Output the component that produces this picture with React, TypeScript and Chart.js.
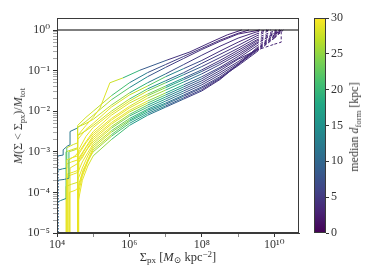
import React, { useEffect, useRef } from 'react';
import { Chart, registerables } from 'chart.js';

Chart.register(...registerables);

const SERIF = '"Liberation Serif", "DejaVu Serif", serif';

// ---- axis / tick data ----
const xTickExponents = [4, 5, 6, 7, 8, 9, 10];
const xLabelExponents = [4, 6, 8, 10];
const yTickExponents = [-5, -4, -3, -2, -1, 0];
const yMinorMultipliers = [2, 3, 4, 5, 6, 7, 8, 9];
const xRange = [1e4, 4.8e10];
const yRange = [1e-5, 1.975];
const unityLineX = [1e4, 4.8e10];
const unityLineY = [1, 1];
const colorbarTicks = [0, 5, 10, 15, 20, 25, 30];
const colorbarRange = [0, 30];

// ---- curves: log10(Sigma_px), log10(M(<Sigma)/M_tot), median d_form [kpc] ----
const curveLogSigma: number[][] = [
  [4.27, 4.27, 4.4, 4.57, 4.57, 4.8, 5.0, 5.19, 5.46, 5.82, 6.29, 7.04, 7.67, 8.2, 8.7, 9.1],
  [4.03, 4.03, 4.15, 4.27, 4.27, 4.45, 4.57, 4.57, 4.8, 5.0, 5.5, 6.0, 6.5, 7.0, 7.5, 8.0, 8.5, 9.0, 9.6],
  [4.03, 4.03, 4.17, 4.17, 4.3, 4.36, 4.36, 4.55, 4.6, 4.8, 5.0, 5.5, 6.0, 6.5, 7.0, 7.5, 8.0, 8.5, 9.0, 9.5, 9.8],
  [4.03, 4.03, 4.2, 4.33, 4.33, 4.5, 4.57, 4.57, 4.8, 5.0, 5.5, 6.0, 6.5, 7.0, 7.5, 8.0, 8.5, 9.0, 9.5, 9.9],
  [4.0, 4.0, 4.1, 4.25, 4.25, 4.4, 4.57, 4.57, 4.8, 5.0, 5.5, 6.0, 6.5, 7.0, 7.5, 8.0, 8.5, 9.0, 9.3],
  [4.27, 4.27, 4.4, 4.57, 4.57, 4.8, 5.0, 5.5, 6.0, 6.5, 7.0, 7.5, 8.0, 8.5, 9.0, 9.5, 9.85],
  [4.28, 4.28, 4.45, 4.6, 4.6, 4.8, 5.0, 5.5, 6.0, 6.5, 7.0, 7.5, 8.0, 8.5, 9.0, 9.5, 10.0, 10.05],
  [4.25, 4.25, 4.4, 4.57, 4.57, 4.8, 5.0, 5.5, 6.0, 6.5, 7.0, 7.5, 8.0, 8.5, 9.0, 9.5, 10.0, 10.15],
  [4.3, 4.3, 4.45, 4.6, 4.6, 4.8, 5.0, 5.5, 6.0, 6.5, 7.0, 7.5, 8.0, 8.5, 9.0, 9.5, 10.0, 10.15],
  [4.33, 4.33, 4.5, 4.65, 4.8, 5.0, 5.5, 6.0, 6.5, 7.0, 7.5, 8.0, 8.5, 9.0, 9.5, 10.0, 10.1],
  [4.34, 4.34, 4.5, 4.57, 4.57, 4.8, 5.0, 5.5, 6.0, 6.5, 7.0, 7.5, 8.0, 8.5, 9.0, 9.5, 10.0, 10.2],
  [4.36, 4.36, 4.55, 4.7, 4.85, 5.0, 5.5, 6.0, 6.5, 7.0, 7.5, 8.0, 8.5, 9.0, 9.5, 10.0, 10.2],
  [4.57, 4.57, 4.7, 4.85, 5.0, 5.5, 6.0, 6.5, 7.0, 7.5, 8.0, 8.5, 9.0, 9.5, 10.0, 10.19, 10.19],
  [4.58, 4.58, 4.7, 4.85, 5.0, 5.5, 6.0, 6.5, 7.0, 7.5, 8.0, 8.5, 9.0, 9.5, 10.0, 10.2],
  [4.57, 4.57, 4.7, 4.85, 5.0, 5.5, 6.0, 6.5, 7.0, 7.5, 8.0, 8.5, 9.0, 9.5, 10.0, 10.2],
  [4.59, 4.59, 4.7, 4.85, 5.0, 5.5, 6.0, 6.5, 7.0, 7.5, 8.0, 8.5, 9.0, 9.5, 10.0, 10.25],
  [4.57, 4.57, 4.7, 4.85, 5.0, 5.5, 6.0, 6.5, 7.0, 7.5, 8.0, 8.5, 9.0, 9.5, 10.0, 10.2],
  [4.6, 4.6, 4.72, 4.85, 5.0, 5.5, 6.0, 6.5, 7.0, 7.5, 8.0, 8.5, 9.0, 9.5, 10.0, 10.15],
  [4.57, 4.57, 4.7, 4.85, 5.0, 5.5, 6.0, 6.5, 7.0, 7.5, 8.0, 8.5, 9.0, 9.5, 10.0, 10.15],
];

const curveLogFrac: number[][] = [
  [-5.5, -3.2, -3.15, -3.1, -2.6, -2.35, -2.15, -1.92, -1.3, -1.18, -0.99, -0.74, -0.54, -0.32, -0.12, 0],
  [-5.5, -3.45, -3.42, -3.4, -2.9, -2.82, -2.78, -2.4, -2.25, -2.1, -1.72, -1.42, -1.15, -0.92, -0.7, -0.48, -0.28, -0.1, 0],
  [-5.5, -3.1, -3.08, -2.95, -2.85, -2.83, -2.5, -2.42, -2.38, -2.3, -2.2, -1.85, -1.55, -1.3, -1.08, -0.85, -0.62, -0.4, -0.2, -0.05, 0],
  [-5.5, -3.7, -3.68, -3.65, -3.0, -2.95, -2.92, -2.6, -2.48, -2.35, -2.0, -1.7, -1.45, -1.25, -1.05, -0.82, -0.6, -0.38, -0.15, 0],
  [-5.5, -4.25, -4.2, -4.15, -3.0, -2.95, -2.9, -2.35, -2.15, -2.0, -1.62, -1.3, -1.05, -0.85, -0.65, -0.45, -0.25, -0.08, 0],
  [-5.5, -3.3, -3.25, -3.2, -2.7, -2.45, -2.3, -1.9, -1.6, -1.38, -1.15, -0.95, -0.75, -0.52, -0.3, -0.1, 0],
  [-5.5, -3.55, -3.5, -3.45, -2.95, -2.62, -2.4, -2.05, -1.75, -1.5, -1.3, -1.1, -0.9, -0.68, -0.45, -0.2, -0.02, 0],
  [-5.5, -3.85, -3.8, -3.75, -3.1, -2.78, -2.55, -2.18, -1.88, -1.62, -1.42, -1.22, -1.02, -0.8, -0.55, -0.28, -0.08, 0],
  [-5.5, -3.6, -3.55, -3.5, -3.2, -2.9, -2.65, -2.28, -1.98, -1.75, -1.55, -1.35, -1.15, -0.92, -0.65, -0.35, -0.08, 0],
  [-5.5, -3.2, -3.1, -2.95, -2.75, -2.5, -2.1, -1.8, -1.58, -1.38, -1.18, -0.98, -0.75, -0.5, -0.25, -0.05, 0],
  [-5.5, -4.0, -3.95, -3.9, -3.2, -2.88, -2.6, -2.22, -1.92, -1.68, -1.48, -1.28, -1.08, -0.85, -0.6, -0.32, -0.1, 0],
  [-5.5, -3.4, -3.3, -3.15, -2.9, -2.7, -2.32, -2.02, -1.8, -1.6, -1.4, -1.2, -0.95, -0.7, -0.4, -0.12, 0],
  [-5.5, -3.3, -3.1, -2.92, -2.75, -2.38, -2.08, -1.85, -1.65, -1.45, -1.25, -1.0, -0.72, -0.5, -0.35, -0.3, 0],
  [-5.5, -3.5, -3.25, -3.02, -2.8, -2.42, -2.12, -1.9, -1.7, -1.5, -1.3, -1.05, -0.78, -0.48, -0.15, 0],
  [-5.5, -3.7, -3.4, -3.1, -2.85, -2.48, -2.18, -1.95, -1.75, -1.55, -1.35, -1.1, -0.82, -0.5, -0.18, 0],
  [-5.5, -3.9, -3.55, -3.2, -2.9, -2.52, -2.22, -1.98, -1.8, -1.6, -1.4, -1.15, -0.85, -0.52, -0.2, 0],
  [-5.5, -4.1, -3.6, -3.25, -2.95, -2.58, -2.25, -2.02, -1.83, -1.63, -1.43, -1.18, -0.88, -0.55, -0.2, 0],
  [-5.5, -3.8, -3.45, -3.22, -3.0, -2.62, -2.3, -2.06, -1.87, -1.67, -1.47, -1.2, -0.85, -0.48, -0.15, 0],
  [-5.5, -4.3, -3.7, -3.35, -3.1, -2.7, -2.35, -2.1, -1.9, -1.7, -1.5, -1.22, -0.85, -0.45, -0.12, 0],
];

const curveDform: number[][] = [
  [29, 29, 29, 29, 29, 29, 29, 29, 28, 27, 12, 5, 4, 4, 3, 3],
  [8, 12, 12, 18, 27, 28, 28, 28, 28, 27, 26, 18, 10, 6, 5, 4, 4, 3, 3],
  [8, 11, 11, 12, 12, 12, 12, 12, 27, 28, 28, 27, 23, 15, 9, 6, 5, 4, 4, 3, 3],
  [8, 11, 11, 14, 26, 28, 28, 28, 28, 28, 28, 25, 18, 12, 8, 6, 5, 4, 4, 3],
  [8, 12, 12, 16, 27, 28, 28, 28, 28, 28, 26, 16, 9, 6, 5, 4, 4, 3, 3],
  [29, 29, 29, 29, 29, 29, 29, 29, 28, 26, 18, 9, 5, 4, 4, 3, 3],
  [29, 29, 29, 29, 29, 29, 29, 29, 28, 27, 20, 12, 6, 5, 4, 4, 3, 3],
  [29, 28, 28, 28, 29, 29, 29, 29, 29, 27, 22, 13, 7, 5, 4, 4, 3, 3],
  [29, 29, 29, 29, 29, 29, 29, 29, 29, 28, 22, 13, 7, 5, 4, 4, 3, 3],
  [29, 29, 29, 29, 29, 29, 29, 28, 27, 20, 11, 6, 4, 4, 4, 3, 3],
  [29, 29, 29, 29, 29, 29, 29, 29, 29, 28, 23, 14, 8, 5, 4, 4, 3, 3],
  [29, 29, 29, 29, 29, 29, 29, 28, 25, 18, 11, 7, 5, 4, 4, 3, 3],
  [29, 29, 29, 29, 29, 28, 24, 20, 16, 10, 6, 5, 4, 4, 3, 3, 3],
  [29, 29, 29, 29, 29, 27, 22, 18, 15, 10, 6, 5, 4, 4, 3, 3],
  [29, 29, 29, 29, 28, 26, 21, 17, 14, 9, 6, 5, 4, 4, 3, 3],
  [29, 29, 29, 29, 29, 27, 22, 17, 13, 9, 6, 5, 4, 4, 3, 3],
  [29, 29, 29, 29, 28, 25, 20, 16, 12, 8, 6, 5, 4, 4, 3, 3],
  [29, 29, 29, 29, 28, 24, 19, 15, 11, 7, 5, 4, 4, 3, 3, 3],
  [29, 29, 29, 29, 27, 23, 18, 14, 10, 7, 5, 4, 4, 3, 3, 3],
];

// ---- viridis colour map (style) ----
const VIRIDIS = ['#440154', '#482475', '#414487', '#355f8d', '#2a788e', '#21918c', '#22a884', '#44bf70', '#7ad151', '#bddf26', '#fde725'];

function hexToRgb(h: string) {
  const n = parseInt(h.slice(1), 16);
  return [(n >> 16) & 255, (n >> 8) & 255, n & 255];
}

function cmap(d: number) {
  const t = Math.max(0, Math.min(1, (d - colorbarRange[0]) / (colorbarRange[1] - colorbarRange[0])));
  const pos = t * (VIRIDIS.length - 1);
  const i = Math.min(VIRIDIS.length - 2, Math.floor(pos));
  const f = pos - i;
  const a = hexToRgb(VIRIDIS[i]);
  const b = hexToRgb(VIRIDIS[i + 1]);
  const c = a.map((v, k) => Math.round(v + (b[k] - v) * f));
  return `rgb(${c[0]},${c[1]},${c[2]})`;
}

const SUP: Record<string, string> = {
  '0': '\u2070', '1': '\u00b9', '2': '\u00b2', '3': '\u00b3', '4': '\u2074',
  '5': '\u2075', '6': '\u2076', '7': '\u2077', '8': '\u2078', '9': '\u2079', '-': '\u207b',
};
const sup = (n: number) => String(n).split('').map((c) => SUP[c] ?? c).join('');

const isDecade = (v: number) => Math.abs(Math.log10(v) - Math.round(Math.log10(v))) < 1e-6;

const framePlugin = {
  id: 'frame',
  afterDatasetsDraw(chart: any) {
    const { ctx, chartArea } = chart;
    ctx.save();
    ctx.strokeStyle = '#3a3a3a';
    ctx.lineWidth = 1;
    ctx.strokeRect(Math.round(chartArea.left) + 0.5, Math.round(chartArea.top) + 0.5,
      Math.round(chartArea.right - chartArea.left) - 1, Math.round(chartArea.bottom - chartArea.top) - 1);
    ctx.restore();
  },
};

export default function App() {
  const mainRef = useRef<HTMLCanvasElement>(null);
  const cbRef = useRef<HTMLCanvasElement>(null);

  useEffect(() => {
    const curveSets = curveLogSigma.map((xs, i) => ({
      data: xs.map((lx, j) => ({ x: Math.pow(10, lx), y: Math.pow(10, curveLogFrac[i][j]) })),
      showLine: true,
      pointRadius: 0,
      borderWidth: 1,
      tension: 0,
      fill: false,
      order: 1,
      borderColor: cmap(curveDform[i][0]),
      segment: {
        borderColor: (ctx: any) => cmap((curveDform[i][ctx.p0DataIndex] + curveDform[i][ctx.p1DataIndex]) / 2),
        borderDash: (ctx: any) => {
          const lx0 = curveLogSigma[i][ctx.p0DataIndex];
          if (lx0 >= 9.2) return [3, 2];
          if (lx0 <= 4.05 && curveLogFrac[i][ctx.p0DataIndex] < -5) return [1, 2];
          return undefined;
        },
      },
    }));

    const unitySet = {
      data: unityLineX.map((x, k) => ({ x, y: unityLineY[k] })),
      showLine: true,
      pointRadius: 0,
      borderWidth: 1.2,
      borderColor: '#000',
      order: 0,
    };

    const main = new Chart(mainRef.current!, {
      type: 'scatter',
      data: { datasets: [...curveSets, unitySet] as any },
      options: {
        responsive: false,
        animation: false,
        events: [],
        layout: { padding: { top: 18, right: 75, left: 0, bottom: 0 } },
        plugins: { legend: { display: false }, tooltip: { enabled: false } },
        scales: {
          x: {
            type: 'logarithmic',
            min: xRange[0],
            max: xRange[1],
            afterBuildTicks: (s: any) => {
              s.ticks = xTickExponents.map((e) => ({ value: Math.pow(10, e) }));
            },
            afterFit: (s: any) => { s.height = 47; },
            ticks: {
              autoSkip: false,
              maxRotation: 0,
              padding: 1,
              color: '#333',
              font: { family: SERIF, size: 12 },
              callback: (v: any) => {
                const e = Math.round(Math.log10(Number(v)));
                return xLabelExponents.includes(e) ? '10' + sup(e) : '';
              },
            },
            grid: {
              drawOnChartArea: false,
              tickLength: 4,
              color: (c: any) => (c.tick && xLabelExponents.includes(Math.round(Math.log10(c.tick.value))) ? '#333' : '#888'),
            },
            border: { display: true, color: '#3a3a3a', width: 1 },
          },
          y: {
            type: 'logarithmic',
            min: yRange[0],
            max: yRange[1],
            afterBuildTicks: (s: any) => {
              const t: { value: number }[] = [];
              yTickExponents.forEach((e) => {
                t.push({ value: Math.pow(10, e) });
                if (e < 0) yMinorMultipliers.forEach((m) => t.push({ value: m * Math.pow(10, e) }));
              });
              t.sort((a, b) => a.value - b.value);
              s.ticks = t;
            },
            afterFit: (s: any) => { s.width = 57; },
            ticks: {
              autoSkip: false,
              padding: 3,
              color: '#333',
              font: { family: SERIF, size: 12 },
              callback: (v: any) => {
                const n = Number(v);
                return isDecade(n) ? '10' + sup(Math.round(Math.log10(n))) : '';
              },
            },
            grid: {
              drawOnChartArea: false,
              tickLength: 4,
              color: (c: any) => (c.tick && isDecade(c.tick.value) ? '#333' : '#aaa'),
            },
            border: { display: true, color: '#3a3a3a', width: 1 },
          },
        },
      },
      plugins: [framePlugin],
    } as any);

    const cb = new Chart(cbRef.current!, {
      type: 'bar',
      data: {
        labels: [''],
        datasets: [{
          data: [[colorbarRange[0], colorbarRange[1]]],
          barPercentage: 1,
          categoryPercentage: 1,
          borderWidth: 0,
          backgroundColor: (ctx: any) => {
            const ca = ctx.chart.chartArea;
            if (!ca) return VIRIDIS[5];
            const g = ctx.chart.ctx.createLinearGradient(0, ca.bottom, 0, ca.top);
            VIRIDIS.forEach((c, k) => g.addColorStop(k / (VIRIDIS.length - 1), c));
            return g;
          },
        }],
      },
      options: {
        responsive: false,
        animation: false,
        events: [],
        layout: { padding: { top: 18, bottom: 47, left: 0, right: 0 } },
        plugins: { legend: { display: false }, tooltip: { enabled: false } },
        scales: {
          x: { display: false },
          y: {
            position: 'right',
            min: colorbarRange[0],
            max: colorbarRange[1],
            afterBuildTicks: (s: any) => { s.ticks = colorbarTicks.map((v) => ({ value: v })); },
            afterFit: (s: any) => { s.width = 48; },
            ticks: { padding: 2, color: '#333', font: { family: SERIF, size: 12 } },
            grid: { drawOnChartArea: false, tickLength: 3, color: '#333' },
            border: { display: false },
          },
        },
      },
      plugins: [framePlugin],
    } as any);

    return () => { main.destroy(); cb.destroy(); };
  }, []);

  const label: React.CSSProperties = {
    position: 'absolute',
    fontFamily: SERIF,
    fontSize: 12.5,
    color: '#333',
    whiteSpace: 'nowrap',
    lineHeight: 1,
  };
  const rotated: React.CSSProperties = { ...label, fontSize: 12, color: '#3a3a3a', fontWeight: 400 };
  const subS: React.CSSProperties = { fontSize: '0.72em', verticalAlign: '-0.3em', lineHeight: 0 };
  const supS: React.CSSProperties = { fontSize: '0.72em', verticalAlign: '0.45em', lineHeight: 0 };

  return (
    <div style={{ position: 'fixed', left: 0, top: 0, width: 374, height: 280, background: '#fff', overflow: 'hidden' }}>
      <canvas ref={mainRef} width={374} height={280} style={{ position: 'absolute', left: 0, top: 0, width: 374, height: 280 }} />
      <canvas ref={cbRef} width={60} height={280} style={{ position: 'absolute', left: 314, top: 0, width: 60, height: 280 }} />
      <div style={{ ...rotated, left: 18, top: 126, transform: 'translate(-50%, -50%) rotate(-90deg)' }}>
        <i>M</i>(Σ &lt; Σ<span style={subS}>px</span>)/<i>M</i><span style={subS}>tot</span>
      </div>
      <div style={{ ...label, left: 178, top: 257, transform: 'translate(-50%, -50%)' }}>
        Σ<span style={subS}>px</span> [<i>M</i><span style={subS}>⊙</span> kpc<span style={supS}>−2</span>]
      </div>
      <div style={{ ...rotated, left: 354, top: 127, transform: 'translate(-50%, -50%) rotate(-90deg)' }}>
        median <i>d</i><span style={subS}>form</span> [kpc]
      </div>
    </div>
  );
}
